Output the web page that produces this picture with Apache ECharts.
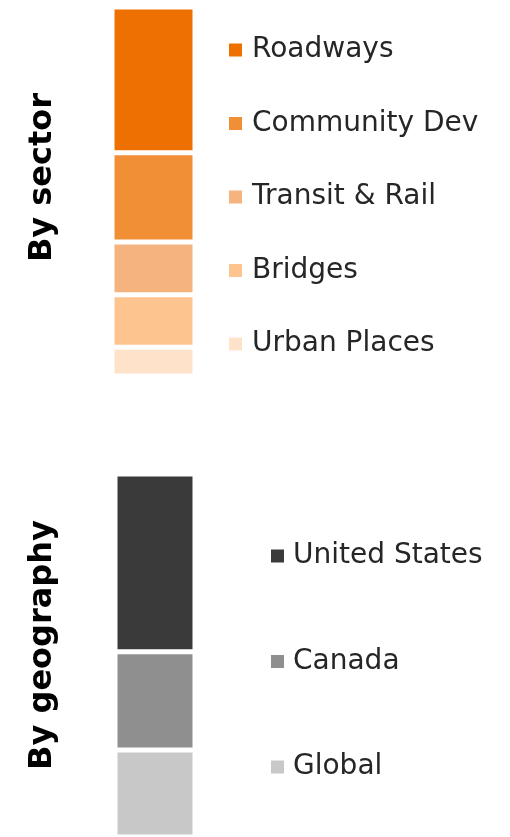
<!DOCTYPE html>
<html>
<head>
<meta charset="utf-8">
<script src="https://cdn.jsdelivr.net/npm/echarts@6/dist/echarts.min.js"></script>
<style>html,body{margin:0;padding:0;background:#fff}#c{width:510px;height:837px}</style>
</head>
<body>
<div id="c"></div>
<script>
const sectorNames = ['Roadways', 'Community Dev', 'Transit & Rail', 'Bridges', 'Urban Places'];
const sectorValues = [39.5, 24.2, 14.3, 14.2, 7.8];
const sectorColors = ['#EE7000', '#F08F36', '#F5B47F', '#FEC48F', '#FFE2CA'];
const geoNames = ['United States', 'Canada', 'Global'];
const geoValues = [49, 27, 24];
const geoColors = ['#3A3A3A', '#8F8F8F', '#C8C8C8'];

const chart = echarts.init(document.getElementById('c'), null, {renderer: 'canvas'});
const FONT = 'DejaVu Sans';
const series = [];
sectorNames.forEach((n, i) => series.push({
  name: n, type: 'bar', stack: 's', xAxisIndex: 0, yAxisIndex: 0,
  data: [sectorValues[i]], barWidth: '100%',
  itemStyle: {color: sectorColors[i], borderColor: '#fff', borderWidth: 2.5},
  emphasis: {disabled: true}, animation: false
}));
geoNames.forEach((n, i) => series.push({
  name: n, type: 'bar', stack: 'g', xAxisIndex: 1, yAxisIndex: 1,
  data: [geoValues[i]], barWidth: '100%',
  itemStyle: {color: geoColors[i], borderColor: '#fff', borderWidth: 2.5},
  emphasis: {disabled: true}, animation: false
}));
const sum = a => a.reduce((s, v) => s + v, 0);
const legendText = (pad) => ({fontFamily: FONT, fontSize: 28, color: '#262626', lineHeight: 30, padding: [0, 0, 0, pad]});
chart.setOption({
  animation: false,
  grid: [
    {left: 112, top: 7, width: 83, height: 369},
    {left: 115, top: 474, width: 80, height: 369}
  ],
  xAxis: [
    {type: 'category', gridIndex: 0, data: ['sector'], show: false},
    {type: 'category', gridIndex: 1, data: ['geography'], show: false}
  ],
  yAxis: [
    {type: 'value', gridIndex: 0, min: 0, max: sum(sectorValues), inverse: true, show: false, splitLine: {show: false}},
    {type: 'value', gridIndex: 1, min: 0, max: sum(sectorValues), inverse: true, show: false, splitLine: {show: false}}
  ],
  legend: [
    {data: sectorNames, orient: 'vertical', left: 229, top: 35, padding: 0, itemWidth: 13, itemHeight: 13,
     itemGap: 43.5, icon: 'rect', selectedMode: false, itemStyle: {borderWidth: 0}, textStyle: legendText(5)},
    {data: geoNames, orient: 'vertical', left: 271, top: 541, padding: 0, itemWidth: 13, itemHeight: 13,
     itemGap: 75.5, icon: 'rect', selectedMode: false, itemStyle: {borderWidth: 0}, textStyle: legendText(4)}
  ],
  graphic: [
    {type: 'text', x: 43, y: 177.5, rotation: Math.PI / 2,
     style: {text: 'By sector', fontFamily: FONT, fontWeight: 'bold', fontSize: 32, fill: '#000', align: 'center', verticalAlign: 'middle'}},
    {type: 'text', x: 43, y: 645, rotation: Math.PI / 2,
     style: {text: 'By geography', fontFamily: FONT, fontWeight: 'bold', fontSize: 32, fill: '#000', align: 'center', verticalAlign: 'middle'}}
  ],
  series: series
});
</script>
</body>
</html>
